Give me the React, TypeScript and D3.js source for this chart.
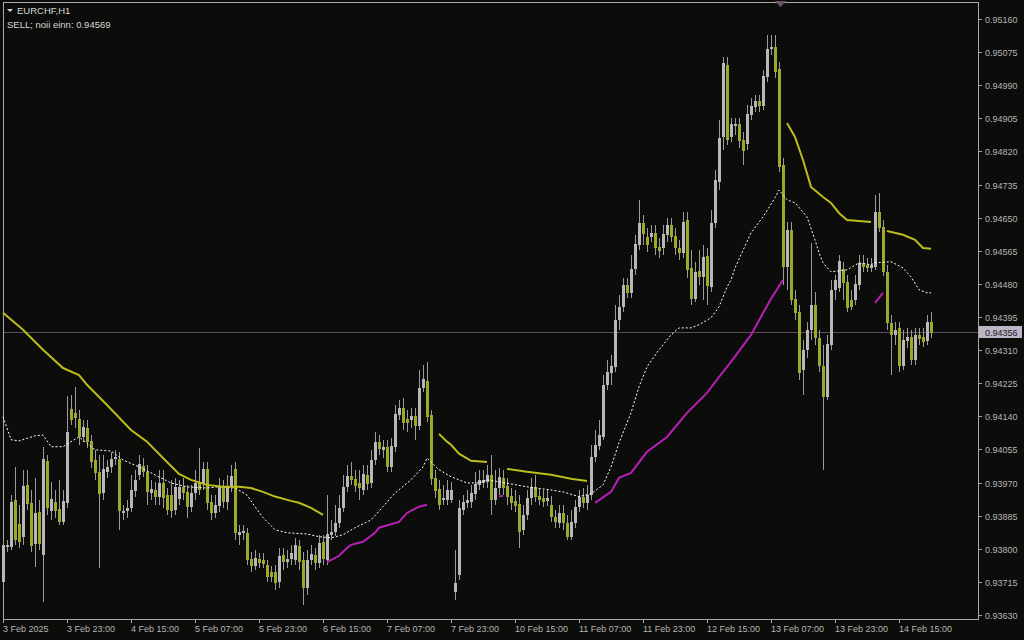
import { useEffect, useRef } from 'react';
import * as d3 from 'd3';

// EURCHF H1 bars, 3 Feb 2025 07:00 .. 14 Feb 2025 23:00
const OPEN = [
  0.93715, 0.93805, 0.93805, 0.93926, 0.93864, 0.93831, 0.93964, 0.93918, 0.93813, 0.93895,
  0.93784, 0.94026, 0.93897, 0.93921, 0.93903, 0.93869, 0.93918, 0.94159, 0.94149, 0.94134,
  0.94087, 0.94110, 0.94077, 0.94028, 0.93998, 0.93943, 0.93998, 0.94010, 0.94031, 0.94031,
  0.93892, 0.93897, 0.93905, 0.93949, 0.93990, 0.94013, 0.93998, 0.93943, 0.93951, 0.93934,
  0.93969, 0.93938, 0.93938, 0.93900, 0.93928, 0.93959, 0.93946, 0.93908, 0.93943, 0.93969,
  0.93967, 0.94005, 0.93921, 0.93892, 0.93910, 0.93959, 0.93921, 0.93962, 0.94005, 0.93836,
  0.93841, 0.93841, 0.93774, 0.93756, 0.93774, 0.93771, 0.93759, 0.93741, 0.93741, 0.93715,
  0.93784, 0.93766, 0.93774, 0.93771, 0.93807, 0.93771, 0.93699, 0.93771, 0.93784, 0.93764,
  0.93818, 0.93771, 0.93836, 0.93844, 0.93867, 0.93905, 0.93959, 0.93987, 0.93980, 0.93969,
  0.93951, 0.93990, 0.93969, 0.94028, 0.94075, 0.94054, 0.94062, 0.94010, 0.94062, 0.94144,
  0.94162, 0.94134, 0.94131, 0.94141, 0.94115, 0.94213, 0.94231, 0.94144, 0.93982, 0.93954,
  0.93926, 0.93926, 0.93926, 0.93689, 0.93733, 0.93900, 0.93918, 0.93921, 0.93941, 0.93964,
  0.93969, 0.93972, 0.93990, 0.93926, 0.93956, 0.93982, 0.93962, 0.93936, 0.93923, 0.93916,
  0.93849, 0.93887, 0.93931, 0.93959, 0.93936, 0.93931, 0.93923, 0.93913, 0.93882, 0.93867,
  0.93892, 0.93867, 0.93831, 0.93867, 0.93908, 0.93934, 0.93918, 0.93938, 0.94036, 0.94064,
  0.94087, 0.94221, 0.94252, 0.94267, 0.94388, 0.94421, 0.94477, 0.94457, 0.94518, 0.94580,
  0.94637, 0.94601, 0.94601, 0.94611, 0.94575, 0.94572, 0.94606, 0.94631, 0.94603, 0.94572,
  0.94560, 0.94644, 0.94521, 0.94442, 0.94513, 0.94498, 0.94552, 0.94472, 0.94637, 0.94742,
  0.94857, 0.95042, 0.94857, 0.94886, 0.94891, 0.94850, 0.94839, 0.94914, 0.94934, 0.94950,
  0.94937, 0.95011, 0.95083, 0.95088, 0.95032, 0.94785, 0.94524, 0.94619, 0.94442, 0.94408,
  0.94259, 0.94311, 0.94362, 0.94426, 0.94341, 0.94270, 0.94190, 0.94323, 0.94465, 0.94470,
  0.94518, 0.94485, 0.94439, 0.94439, 0.94477, 0.94534, 0.94529, 0.94521, 0.94524, 0.94665,
  0.94626, 0.94511, 0.94380, 0.94349, 0.94367, 0.94270, 0.94334, 0.94344, 0.94285, 0.94349,
  0.94344, 0.94334, 0.94383,
];

const HIGH = [
  0.93823, 0.93823, 0.93938, 0.94010, 0.93913, 0.94003, 0.94003, 0.93951, 0.93982, 0.93926,
  0.94062, 0.94041, 0.93972, 0.93951, 0.93977, 0.93951, 0.94193, 0.94195, 0.94216, 0.94157,
  0.94131, 0.94131, 0.94092, 0.94054, 0.94041, 0.94041, 0.94028, 0.94049, 0.94054, 0.94049,
  0.93913, 0.93926, 0.93990, 0.94003, 0.94041, 0.94033, 0.94015, 0.93977, 0.93972, 0.94003,
  0.94003, 0.93956, 0.93977, 0.93982, 0.93977, 0.93982, 0.93964, 0.93964, 0.94003, 0.94059,
  0.94023, 0.94023, 0.93938, 0.93938, 0.93982, 0.93977, 0.93990, 0.94015, 0.94023, 0.93862,
  0.93862, 0.93854, 0.93792, 0.93797, 0.93789, 0.93789, 0.93771, 0.93756, 0.93759, 0.93802,
  0.93802, 0.93797, 0.93810, 0.93828, 0.93823, 0.93792, 0.93797, 0.93810, 0.93802, 0.93836,
  0.93836, 0.93938, 0.93874, 0.93913, 0.93938, 0.93990, 0.94015, 0.94023, 0.94003, 0.94003,
  0.94015, 0.94015, 0.94054, 0.94100, 0.94092, 0.94080, 0.94080, 0.94085, 0.94169, 0.94182,
  0.94187, 0.94157, 0.94162, 0.94162, 0.94259, 0.94272, 0.94280, 0.94157, 0.94003, 0.93977,
  0.93964, 0.93977, 0.93972, 0.93797, 0.93926, 0.93938, 0.93951, 0.93964, 0.93998, 0.94003,
  0.94003, 0.94015, 0.94041, 0.94003, 0.94008, 0.94003, 0.93982, 0.93956, 0.93951, 0.93938,
  0.93913, 0.93951, 0.93982, 0.93990, 0.93956, 0.93951, 0.93951, 0.93936, 0.93900, 0.93913,
  0.93913, 0.93887, 0.93900, 0.93926, 0.93951, 0.93956, 0.93964, 0.94067, 0.94105, 0.94131,
  0.94246, 0.94285, 0.94298, 0.94426, 0.94452, 0.94495, 0.94495, 0.94555, 0.94606, 0.94696,
  0.94657, 0.94624, 0.94631, 0.94631, 0.94598, 0.94631, 0.94649, 0.94649, 0.94624, 0.94593,
  0.94665, 0.94665, 0.94567, 0.94537, 0.94567, 0.94580, 0.94572, 0.94670, 0.94773, 0.94901,
  0.95063, 0.95063, 0.94906, 0.94906, 0.94906, 0.94870, 0.94939, 0.94957, 0.94965, 0.94965,
  0.95029, 0.95119, 0.95119, 0.95119, 0.95050, 0.94803, 0.94639, 0.94639, 0.94465, 0.94426,
  0.94336, 0.94383, 0.94585, 0.94460, 0.94362, 0.94323, 0.94349, 0.94490, 0.94503, 0.94555,
  0.94537, 0.94503, 0.94465, 0.94503, 0.94555, 0.94555, 0.94547, 0.94547, 0.94708, 0.94714,
  0.94644, 0.94529, 0.94400, 0.94383, 0.94383, 0.94362, 0.94367, 0.94362, 0.94367, 0.94367,
  0.94367, 0.94400, 0.94408,
];

const LOW = [
  0.93699, 0.93792, 0.93797, 0.93810, 0.93802, 0.93810, 0.93900, 0.93792, 0.93753, 0.93797,
  0.93664, 0.93887, 0.93874, 0.93880, 0.93862, 0.93862, 0.93905, 0.94118, 0.94110, 0.94067,
  0.94075, 0.94059, 0.94008, 0.93977, 0.93751, 0.93926, 0.93982, 0.93995, 0.94015, 0.93849,
  0.93874, 0.93880, 0.93895, 0.93934, 0.93977, 0.93985, 0.93913, 0.93926, 0.93913, 0.93913,
  0.93905, 0.93887, 0.93880, 0.93887, 0.93913, 0.93926, 0.93880, 0.93895, 0.93926, 0.93938,
  0.93951, 0.93900, 0.93874, 0.93880, 0.93895, 0.93905, 0.93900, 0.93946, 0.93823, 0.93810,
  0.93823, 0.93759, 0.93741, 0.93746, 0.93751, 0.93751, 0.93715, 0.93715, 0.93694, 0.93699,
  0.93746, 0.93751, 0.93759, 0.93759, 0.93746, 0.93656, 0.93682, 0.93759, 0.93746, 0.93751,
  0.93759, 0.93759, 0.93823, 0.93833, 0.93854, 0.93895, 0.93946, 0.93964, 0.93946, 0.93926,
  0.93938, 0.93951, 0.93956, 0.94015, 0.94041, 0.94033, 0.93998, 0.93998, 0.94049, 0.94131,
  0.94105, 0.94100, 0.94110, 0.94080, 0.94105, 0.94203, 0.94126, 0.93964, 0.93931, 0.93900,
  0.93913, 0.93913, 0.93918, 0.93669, 0.93720, 0.93887, 0.93905, 0.93905, 0.93926, 0.93951,
  0.93956, 0.93956, 0.93887, 0.93913, 0.93938, 0.93938, 0.93913, 0.93900, 0.93895, 0.93802,
  0.93836, 0.93874, 0.93913, 0.93921, 0.93913, 0.93908, 0.93910, 0.93869, 0.93854, 0.93854,
  0.93849, 0.93823, 0.93823, 0.93854, 0.93895, 0.93905, 0.93900, 0.93926, 0.94023, 0.94054,
  0.94080, 0.94208, 0.94221, 0.94254, 0.94362, 0.94408, 0.94444, 0.94444, 0.94503, 0.94567,
  0.94580, 0.94562, 0.94588, 0.94555, 0.94547, 0.94555, 0.94588, 0.94588, 0.94555, 0.94542,
  0.94547, 0.94495, 0.94426, 0.94434, 0.94477, 0.94439, 0.94426, 0.94460, 0.94624, 0.94721,
  0.94824, 0.94837, 0.94844, 0.94862, 0.94829, 0.94785, 0.94824, 0.94901, 0.94921, 0.94921,
  0.94927, 0.94999, 0.95068, 0.95009, 0.94768, 0.94477, 0.94465, 0.94426, 0.94388, 0.94234,
  0.94195, 0.94290, 0.94336, 0.94324, 0.94254, 0.94003, 0.94182, 0.94311, 0.94439, 0.94460,
  0.94439, 0.94408, 0.94413, 0.94426, 0.94465, 0.94511, 0.94511, 0.94511, 0.94516, 0.94613,
  0.94501, 0.94362, 0.94246, 0.94323, 0.94254, 0.94259, 0.94316, 0.94272, 0.94272, 0.94323,
  0.94318, 0.94323, 0.94341,
];

const CLOSE = [
  0.93810, 0.93810, 0.93921, 0.93823, 0.93818, 0.93962, 0.93916, 0.93807, 0.93892, 0.93813,
  0.94031, 0.93905, 0.93928, 0.93897, 0.93869, 0.93923, 0.94100, 0.94131, 0.94136, 0.94087,
  0.94113, 0.94075, 0.94023, 0.93995, 0.93941, 0.94005, 0.94010, 0.94031, 0.94036, 0.93897,
  0.93897, 0.93905, 0.93951, 0.93977, 0.94018, 0.93998, 0.93946, 0.93954, 0.93934, 0.93969,
  0.93931, 0.93900, 0.93897, 0.93959, 0.93959, 0.93943, 0.93908, 0.93943, 0.93969, 0.93951,
  0.94005, 0.93918, 0.93892, 0.93913, 0.93962, 0.93921, 0.93962, 0.93987, 0.93841, 0.93844,
  0.93846, 0.93771, 0.93756, 0.93777, 0.93764, 0.93761, 0.93728, 0.93728, 0.93712, 0.93782,
  0.93766, 0.93774, 0.93789, 0.93810, 0.93766, 0.93699, 0.93771, 0.93787, 0.93764, 0.93815,
  0.93774, 0.93838, 0.93844, 0.93867, 0.93905, 0.93959, 0.93987, 0.93977, 0.93962, 0.93956,
  0.93992, 0.93967, 0.94028, 0.94075, 0.94057, 0.94062, 0.94010, 0.94064, 0.94146, 0.94162,
  0.94123, 0.94123, 0.94141, 0.94115, 0.94213, 0.94236, 0.94139, 0.93980, 0.93949, 0.93913,
  0.93931, 0.93951, 0.93951, 0.93712, 0.93905, 0.93921, 0.93926, 0.93943, 0.93967, 0.93977,
  0.93977, 0.93990, 0.93926, 0.93956, 0.93985, 0.93956, 0.93934, 0.93918, 0.93910, 0.93844,
  0.93887, 0.93931, 0.93959, 0.93934, 0.93926, 0.93921, 0.93931, 0.93882, 0.93869, 0.93892,
  0.93867, 0.93831, 0.93869, 0.93908, 0.93934, 0.93918, 0.93938, 0.94036, 0.94067, 0.94092,
  0.94221, 0.94254, 0.94270, 0.94388, 0.94421, 0.94477, 0.94457, 0.94518, 0.94583, 0.94637,
  0.94608, 0.94580, 0.94611, 0.94572, 0.94565, 0.94608, 0.94631, 0.94601, 0.94572, 0.94560,
  0.94639, 0.94516, 0.94442, 0.94511, 0.94498, 0.94549, 0.94475, 0.94637, 0.94747, 0.94855,
  0.95047, 0.94850, 0.94891, 0.94891, 0.94847, 0.94821, 0.94916, 0.94937, 0.94950, 0.94937,
  0.95014, 0.95083, 0.95088, 0.95024, 0.94780, 0.94524, 0.94619, 0.94439, 0.94406, 0.94252,
  0.94311, 0.94362, 0.94426, 0.94341, 0.94270, 0.94190, 0.94326, 0.94465, 0.94490, 0.94539,
  0.94483, 0.94418, 0.94421, 0.94480, 0.94534, 0.94524, 0.94521, 0.94529, 0.94665, 0.94624,
  0.94511, 0.94380, 0.94349, 0.94362, 0.94270, 0.94336, 0.94344, 0.94285, 0.94349, 0.94339,
  0.94331, 0.94383, 0.94356,
];

// trend indicator: [bar, price] pieces (yellow above price, magenta below)
const TREND_UPPER: [number, number][][] = [
  [[0, 0.94406], [5, 0.94362], [10, 0.94311], [15, 0.94264], [19, 0.94246], [21, 0.94221], [26, 0.94169],
   [32, 0.94105], [36, 0.94075], [40, 0.94033], [44, 0.93992], [47, 0.93977], [51, 0.93964], [55, 0.93959],
   [59, 0.93959], [62, 0.93956], [65, 0.93946], [68, 0.93934], [72, 0.93923], [74, 0.93918], [77, 0.93905],
   [80, 0.93887]],
  [[109, 0.94095], [111, 0.94075], [112, 0.94067], [114, 0.94044], [117, 0.94026], [121, 0.94023]],
  [[126, 0.94005], [131, 0.93998], [137, 0.93990], [142, 0.93980], [146, 0.93974]],
  [[196, 0.94893], [198, 0.94857], [200, 0.94798], [202, 0.94729], [205, 0.94703], [207, 0.94688],
   [209, 0.94662], [211, 0.94644], [217, 0.94639]],
  [[221, 0.94616], [225, 0.94606], [228, 0.94593], [230, 0.94572], [232, 0.94570]],
];

const TREND_LOWER: [number, number][][] = [
  [[81, 0.93766], [84, 0.93782], [86, 0.93802], [87, 0.93810], [90, 0.93818], [93, 0.93841], [94, 0.93854],
   [99, 0.93869], [101, 0.93892], [104, 0.93908], [106, 0.93913]],
  [[124, 0.93934], [125, 0.93936]],
  [[148, 0.93918], [152, 0.93946], [154, 0.93982], [157, 0.93995], [161, 0.94049], [166, 0.94087],
   [171, 0.94149], [176, 0.94200], [179, 0.94241], [182, 0.94280], [187, 0.94349], [192, 0.94442],
   [195, 0.94490]],
  [[218, 0.94431], [220, 0.94457]],
];

// moving average (dotted)
const MA_LINE: [number, number][] = [
  [0, 0.94139], [2, 0.94080], [4, 0.94077], [8, 0.94090], [10, 0.94092], [12, 0.94062], [15, 0.94062],
  [17, 0.94075], [19, 0.94087], [23, 0.94054], [27, 0.94051], [30, 0.94028], [34, 0.94010], [37, 0.93995],
  [42, 0.93969], [46, 0.93959], [51, 0.93956], [54, 0.93959], [58, 0.93956], [61, 0.93938], [63, 0.93908],
  [65, 0.93880], [68, 0.93849], [71, 0.93841], [76, 0.93838], [79, 0.93831], [82, 0.93828], [85, 0.93836],
  [88, 0.93854], [92, 0.93874], [95, 0.93908], [98, 0.93943], [102, 0.93977], [105, 0.94010], [106, 0.94033],
  [109, 0.94003], [112, 0.93985], [116, 0.93969], [119, 0.93969], [121, 0.93977], [124, 0.93972],
  [131, 0.93959], [137, 0.93951], [140, 0.93946], [144, 0.93934], [147, 0.93941], [150, 0.93964],
  [152, 0.94010], [154, 0.94072], [157, 0.94149], [159, 0.94216], [161, 0.94267], [164, 0.94311],
  [167, 0.94349], [169, 0.94367], [172, 0.94367], [174, 0.94375], [177, 0.94393], [179, 0.94421],
  [181, 0.94472], [182, 0.94490], [183, 0.94521], [187, 0.94611], [190, 0.94652], [193, 0.94701],
  [194, 0.94721], [196, 0.94696], [198, 0.94688], [201, 0.94652], [203, 0.94593], [204, 0.94560],
  [205, 0.94534], [207, 0.94511], [211, 0.94516], [214, 0.94534], [217, 0.94529], [218, 0.94534],
  [222, 0.94537], [225, 0.94521], [227, 0.94498], [229, 0.94465], [231, 0.94457], [232, 0.94457],
];

const PRICE_TICKS = [
  0.9516, 0.95075, 0.9499, 0.94905, 0.9482, 0.94735, 0.9465, 0.94565, 0.9448, 0.94395,
  0.9431, 0.94225, 0.9414, 0.94055, 0.9397, 0.93885, 0.938, 0.93715, 0.9363,
];
const TIME_TICK_BARS = [0, 16, 32, 48, 64, 80, 96, 112, 128, 144, 160, 176, 192, 208, 224];
const TIME_LABELS = [
  '3 Feb 2025', '3 Feb 23:00', '4 Feb 15:00', '5 Feb 07:00', '5 Feb 23:00', '6 Feb 15:00',
  '7 Feb 07:00', '7 Feb 23:00', '10 Feb 15:00', '11 Feb 07:00', '11 Feb 23:00', '12 Feb 15:00',
  '13 Feb 07:00', '13 Feb 23:00', '14 Feb 15:00',
];
const LAST_PRICE = 0.94356;

const W = 1024;
const H = 640;
const FONT = "'Liberation Sans', Arial, sans-serif";

export default function App() {
  const svgRef = useRef<SVGSVGElement>(null);

  useEffect(() => {
    if (!svgRef.current) return;
    const svg = d3.select(svgRef.current);
    svg.selectAll('*').remove();

    const left = 3, right = 978, top = 2, bottom = 619;
    const x = d3.scaleLinear().domain([0, 232]).range([3, 931]);
    const y = d3.scaleLinear().domain([0.9363, 0.9516]).range([615, 19]);

    const bars = OPEN.map((o, i) => ({ i, o, h: HIGH[i], l: LOW[i], c: CLOSE[i] }));

    svg.append('rect').attr('width', W).attr('height', H).attr('fill', '#0c0c0a');

    // frame
    svg.append('path')
      .attr('d', `M${left + 0.5},${bottom + 0.5}V${top + 0.5}H${right + 0.5}V${bottom + 0.5}H${left + 0.5}`)
      .attr('fill', 'none')
      .attr('stroke', '#a8a8a8')
      .attr('shape-rendering', 'crispEdges');

    // current price line
    svg.append('line')
      .attr('x1', left + 1).attr('x2', right)
      .attr('y1', Math.round(y(LAST_PRICE)) + 0.5).attr('y2', Math.round(y(LAST_PRICE)) + 0.5)
      .attr('stroke', '#5a4d5c')
      .attr('shape-rendering', 'crispEdges');

    const plot = svg.append('g');

    // wicks
    plot.selectAll('.wick')
      .data(bars)
      .join('line')
      .attr('x1', d => Math.round(x(d.i)) + 0.5)
      .attr('x2', d => Math.round(x(d.i)) + 0.5)
      .attr('y1', d => Math.round(y(d.h)))
      .attr('y2', d => Math.round(y(d.l)))
      .attr('stroke', '#9c9c9c')
      .attr('shape-rendering', 'crispEdges');

    // bodies
    plot.selectAll('.body')
      .data(bars)
      .join('rect')
      .attr('x', d => Math.round(x(d.i)) - 1)
      .attr('width', 3)
      .attr('y', d => Math.round(y(Math.max(d.o, d.c))))
      .attr('height', d => Math.max(1, Math.round(Math.abs(y(d.o) - y(d.c)))))
      .attr('fill', d => (d.c >= d.o ? '#b8b8b8' : '#a0a82a'))
      .attr('shape-rendering', 'crispEdges');

    const line = d3.line<[number, number]>()
      .x(d => x(d[0]))
      .y(d => y(d[1]));

    plot.append('path')
      .attr('d', line(MA_LINE))
      .attr('fill', 'none')
      .attr('stroke', '#ffffff')
      .attr('stroke-width', 1)
      .attr('stroke-dasharray', '2,2');

    TREND_UPPER.forEach(seg => {
      plot.append('path')
        .attr('d', line(seg))
        .attr('fill', 'none')
        .attr('stroke', '#bcbc1c')
        .attr('stroke-width', 2);
    });
    TREND_LOWER.forEach(seg => {
      plot.append('path')
        .attr('d', line(seg))
        .attr('fill', 'none')
        .attr('stroke', '#b81eb8')
        .attr('stroke-width', 2);
    });

    // price axis
    const pa = svg.append('g');
    PRICE_TICKS.forEach(p => {
      const py = Math.round(y(p)) + 0.5;
      pa.append('line')
        .attr('x1', right + 1).attr('x2', right + 4)
        .attr('y1', py).attr('y2', py)
        .attr('stroke', '#a8a8a8')
        .attr('shape-rendering', 'crispEdges');
      pa.append('text')
        .attr('x', 985).attr('y', py + 3.5)
        .attr('fill', '#b4b4b4')
        .style('font-family', FONT)
        .style('font-size', '9px')
        .text(d3.format('.5f')(p));
    });

    // last price label
    const ly = Math.round(y(LAST_PRICE));
    pa.append('rect')
      .attr('x', 979).attr('y', ly - 6)
      .attr('width', 43).attr('height', 12)
      .attr('fill', '#bdb4c8');
    pa.append('text')
      .attr('x', 985).attr('y', ly + 3.5)
      .attr('fill', '#1c1c1c')
      .style('font-family', FONT)
      .style('font-size', '9px')
      .text(d3.format('.5f')(LAST_PRICE));

    // time axis
    const ta = svg.append('g');
    TIME_TICK_BARS.forEach((b, k) => {
      const tx = Math.round(x(b)) + 0.5;
      ta.append('line')
        .attr('x1', tx).attr('x2', tx)
        .attr('y1', bottom + 1).attr('y2', bottom + 4)
        .attr('stroke', '#a8a8a8')
        .attr('shape-rendering', 'crispEdges');
      ta.append('text')
        .attr('x', tx - 0.5).attr('y', 632)
        .attr('fill', '#b4b4b4')
        .style('font-family', FONT)
        .style('font-size', '9px')
        .text(TIME_LABELS[k]);
    });

    // marker at top border
    svg.append('path')
      .attr('d', 'M775,1L786,1L780.5,7Z')
      .attr('fill', '#6e5069');

    // header text
    svg.append('path')
      .attr('d', 'M7,9L13,9L10,12Z')
      .attr('fill', '#d8d8d8');
    svg.append('text')
      .attr('x', 17).attr('y', 14)
      .attr('fill', '#d6d6d6')
      .style('font-family', FONT)
      .style('font-size', '9.5px')
      .text('EURCHF,H1');
    svg.append('text')
      .attr('x', 7).attr('y', 27.5)
      .attr('fill', '#d6d6d6')
      .style('font-family', FONT)
      .style('font-size', '9.5px')
      .text('SELL; noii einn: 0.94569');
  }, []);

  return (
    <div style={{ position: 'fixed', left: 0, top: 0, width: W, height: H, background: '#0c0c0a' }}>
      <svg ref={svgRef} width={W} height={H} style={{ display: 'block' }} />
    </div>
  );
}
